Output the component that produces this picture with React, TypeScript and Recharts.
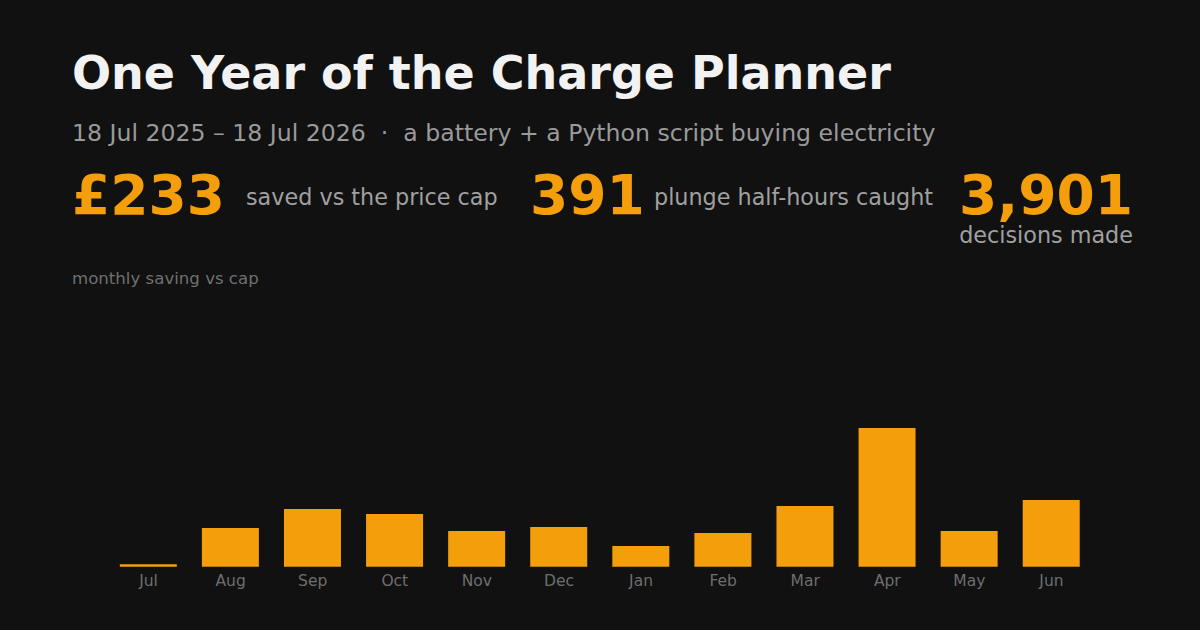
import React from "react";
import { BarChart, Bar, XAxis, YAxis } from "recharts";

const months = ["Jul", "Aug", "Sep", "Oct", "Nov", "Dec", "Jan", "Feb", "Mar", "Apr", "May", "Jun"];
const savings = [1.0, 15.5, 23.0, 21.0, 14.3, 15.9, 8.3, 13.5, 24.2, 55.4, 14.3, 26.6];

const title = "One Year of the Charge Planner";
const subtitle = "18 Jul 2025 \u2013 18 Jul 2026  \u00b7  a battery + a Python script buying electricity";
const statValues = ["\u00a3233", "391", "3,901"];
const statLabels = ["saved vs the price cap", "plunge half-hours caught", "decisions made"];
const chartLabel = "monthly saving vs cap";

const data = months.map((m, i) => ({ month: m, saving: savings[i] }));

const BG = "#111111";
const ORANGE = "#f59e0b";
const FONT = "'DejaVu Sans', sans-serif";

export default function App() {
  return (
    <div
      style={{
        position: "fixed",
        left: 0,
        top: 0,
        width: 1200,
        height: 630,
        background: BG,
        overflow: "hidden",
        fontFamily: FONT,
      }}
    >
      <svg width={1200} height={630} style={{ position: "absolute", left: 0, top: 0 }}>
        <text x={72} y={89} fill="#f2f2f2" fontSize={46} fontWeight="bold" fontFamily={FONT}>
          {title}
        </text>
        <text x={72} y={141} fill="#9a9a9a" fontSize={23.6} fontFamily={FONT} style={{ whiteSpace: "pre" }}>
          {subtitle}
        </text>
        <text x={72} y={214} fill={ORANGE} fontSize={55} fontWeight="bold" fontFamily={FONT}>
          {statValues[0]}
        </text>
        <text x={246} y={205} fill="#a0a0a0" fontSize={22.3} fontFamily={FONT}>
          {statLabels[0]}
        </text>
        <text x={530} y={214} fill={ORANGE} fontSize={55} fontWeight="bold" fontFamily={FONT}>
          {statValues[1]}
        </text>
        <text x={654} y={205} fill="#a0a0a0" fontSize={22.3} fontFamily={FONT}>
          {statLabels[1]}
        </text>
        <text x={1133} y={214} fill={ORANGE} fontSize={55} fontWeight="bold" fontFamily={FONT} textAnchor="end">
          {statValues[2]}
        </text>
        <text x={1133} y={243} fill="#a0a0a0" fontSize={22.3} fontFamily={FONT} textAnchor="end">
          {statLabels[2]}
        </text>
        <text x={72} y={284} fill="#707070" fontSize={16.6} fontFamily={FONT}>
          {chartLabel}
        </text>
      </svg>
      <div style={{ position: "absolute", left: 0, top: 0 }}>
        <BarChart
          width={1200}
          height={630}
          data={data}
          margin={{ top: 428, right: 107.5, bottom: 33.3, left: 107.5 }}
          barCategoryGap="15%"
        >
          <XAxis
            dataKey="month"
            axisLine={false}
            tickLine={false}
            interval={0}
            tick={{ fill: "#6e6e6e", fontSize: 15.5, fontFamily: FONT }}
          />
          <YAxis hide domain={[0, "dataMax"]} />
          <Bar dataKey="saving" fill={ORANGE} isAnimationActive={false} />
        </BarChart>
      </div>
    </div>
  );
}
